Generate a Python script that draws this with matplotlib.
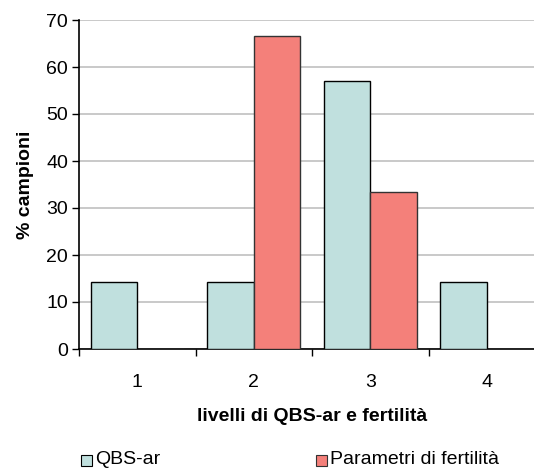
import numpy as np
import matplotlib.pyplot as plt
from matplotlib.patches import Rectangle

plt.rcParams['font.family'] = ['Liberation Sans', 'DejaVu Sans']

livelli = [1, 2, 3, 4]
qbs_ar = [14.3, 14.3, 57.1, 14.3]
fertilita = [0, 66.7, 33.3, 0]

col_qbs = '#c0e0de'
col_fert = '#f4807a'

fig = plt.figure(figsize=(5.34, 4.68), dpi=100)
W, H = 534, 468
ax = fig.add_axes([79 / W, 1 - 349 / H, 466 / W, 329 / H])

x = np.array(livelli)
ax.bar(x - 0.2, qbs_ar, width=0.4, color=col_qbs, edgecolor='black', linewidth=1.0, zorder=3)
ax.bar(x + 0.2, fertilita, width=0.4, color=col_fert, edgecolor='#333333', linewidth=1.0, zorder=3)

ax.set_xlim(0.5, 4.5)
ax.set_ylim(0, 70)
ax.set_yticks(range(0, 71, 10))
ax.yaxis.grid(True, color='#c0c0c0', linewidth=1.2, zorder=0)
ax.set_axisbelow(True)

# category boundaries carry the ticks, labels sit in the middle
ax.set_xticks([0.5, 1.5, 2.5, 3.5, 4.5])
ax.set_xticklabels([])
ax.set_xticks(x, minor=True)
ax.set_xticklabels([str(v) for v in livelli], minor=True)
ax.tick_params(axis='x', which='minor', length=0, pad=18, labelsize=14)
ax.tick_params(axis='x', which='major', direction='out', length=5, width=1)
ax.tick_params(axis='y', direction='out', length=5, width=1, labelsize=14, pad=3)

for s in ['top', 'right']:
    ax.spines[s].set_visible(False)
ax.spines['left'].set_linewidth(1.2)
ax.spines['bottom'].set_linewidth(1.2)

ax.set_ylabel('% campioni', fontsize=14, fontweight='bold', labelpad=9)
ax.set_xlabel('livelli di QBS-ar e fertilità', fontsize=14, fontweight='bold', labelpad=12)

# legend row below the plot
for lx, col, ec, txt in [(81, col_qbs, 'black', 'QBS-ar'), (316, col_fert, '#333333', 'Parametri di fertilità')]:
    fig.patches.append(Rectangle((lx / W, 1 - 466 / H), 11 / W, 11 / H, transform=fig.transFigure,
                                 facecolor=col, edgecolor=ec, linewidth=0.8))
    fig.text((lx + 14) / W, 1 - 460 / H, txt, fontsize=14, va='center', ha='left')

fig.savefig('out.png', dpi=100)
